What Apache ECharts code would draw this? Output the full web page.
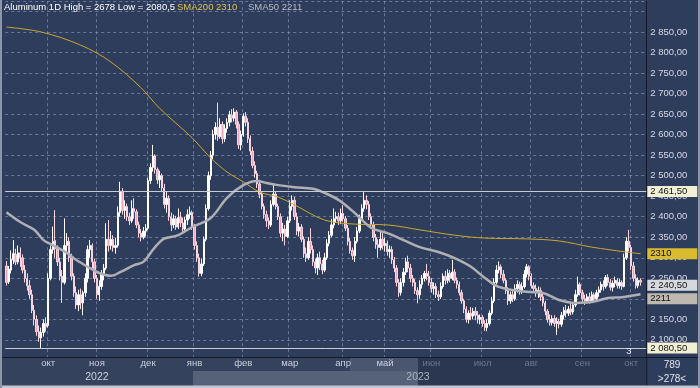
<!DOCTYPE html>
<html><head><meta charset="utf-8">
<script src="https://cdn.jsdelivr.net/npm/echarts/dist/echarts.min.js"></script>
<style>html,body{margin:0;padding:0;background:#2f3d5d;}#c{width:700px;height:388px;}</style>
</head><body><div id="c"></div><script>
// ---------- data ----------
const firstDate = '2022-09-06';
const holidays = ['2022-09-19','2022-12-26','2022-12-27','2023-01-02','2023-04-07','2023-04-10','2023-05-01','2023-05-08','2023-05-29','2023-08-28'];
const slotCount = 276;
const monthNames = ['янв','фев','мар','апр','май','июн','июл','авг','сен','окт','ноя','дек'];
const yearMarks = ['2022-11','2023-05'];
const yearTexts = ['2022','2023'];
const dimFromMonth = '2023-06';
const opens = [2280,2242,2270,2295,2308,2290,2312,2300,2270,2250, 2232,2210,2172,2150,2120,2105,2118,2140,2135,2250, 2320,2342,2322,2290,2255,2240,2330,2340,2300,2255, 2215,2185,2210,2190,2215,2250,2320,2330,2290,2250, 2210,2230,2262,2275,2345,2330,2345,2325,2330,2410, 2462,2415,2425,2400,2390,2420,2412,2380,2360,2350, 2365,2372,2488,2520,2548,2515,2490,2500,2470,2430, 2445,2400,2380,2395,2375,2398,2385,2370,2392,2405, 2410,2375,2330,2300,2262,2285,2345,2420,2500,2550, 2600,2618,2595,2625,2590,2615,2630,2648,2640,2655, 2625,2575,2600,2645,2630,2590,2560,2525,2505,2480, 2455,2425,2405,2390,2380,2430,2455,2425,2400,2360, 2370,2352,2390,2425,2440,2400,2365,2375,2345,2310, 2300,2340,2320,2290,2275,2300,2285,2270,2300,2335, 2355,2380,2395,2400,2390,2408,2395,2372,2340,2318, 2305,2340,2365,2395,2420,2440,2430,2400,2380,2350, 2332,2325,2345,2330,2335,2315,2320,2295,2275,2240, 2215,2240,2265,2290,2275,2250,2240,2220,2210,2235, 2250,2262,2255,2240,2225,2230,2210,2205,2230,2255, 2245,2262,2250,2265,2245,2235,2215,2195,2175,2150, 2165,2158,2170,2160,2150,2155,2140,2130,2140,2165, 2195,2240,2270,2278,2260,2245,2220,2195,2210,2200, 2225,2235,2220,2230,2260,2278,2255,2232,2225,2215, 2220,2205,2190,2170,2150,2142,2152,2140,2145,2138, 2160,2172,2165,2175,2168,2185,2210,2235,2215,2200, 2195,2205,2195,2210,2200,2215,2222,2235,2230,2252, 2240,2228,2238,2245,2232,2240,2230,2300,2340,2325, 2280,2250,2232,2245];
const closes = [2240,2272,2296,2310,2290,2312,2300,2270,2250,2232, 2210,2172,2150,2120,2105,2118,2140,2132,2250,2320, 2340,2322,2290,2255,2240,2330,2340,2300,2255,2215, 2185,2210,2190,2215,2250,2320,2330,2290,2250,2210, 2230,2262,2275,2345,2330,2345,2325,2330,2410,2462, 2415,2425,2400,2390,2420,2412,2380,2360,2350,2365, 2372,2488,2520,2548,2515,2490,2500,2470,2430,2445, 2400,2380,2395,2375,2398,2385,2370,2392,2405,2410, 2375,2330,2300,2262,2285,2345,2420,2500,2550,2600, 2618,2595,2625,2590,2615,2630,2648,2640,2655,2625, 2575,2600,2645,2630,2590,2560,2525,2505,2480,2455, 2425,2405,2390,2380,2430,2455,2425,2400,2360,2370, 2352,2390,2425,2440,2400,2365,2375,2345,2310,2300, 2340,2320,2290,2275,2300,2285,2270,2300,2335,2355, 2380,2395,2400,2390,2408,2395,2372,2340,2318,2305, 2340,2365,2395,2420,2440,2430,2400,2380,2350,2332, 2325,2345,2330,2335,2315,2320,2295,2275,2240,2215, 2240,2265,2290,2275,2250,2240,2220,2210,2235,2250, 2262,2255,2240,2225,2230,2210,2205,2230,2255,2245, 2262,2250,2265,2245,2235,2215,2195,2175,2150,2165, 2158,2170,2160,2150,2155,2140,2130,2140,2165,2195, 2240,2270,2278,2260,2245,2220,2195,2210,2200,2225, 2235,2220,2230,2260,2278,2255,2232,2225,2215,2220, 2205,2190,2170,2150,2142,2152,2140,2145,2138,2160, 2172,2165,2175,2168,2185,2210,2235,2215,2200,2195, 2205,2195,2210,2200,2215,2222,2235,2230,2252,2240, 2228,2238,2245,2232,2240,2230,2300,2340,2325,2280, 2250,2232,2245,2240.5];
const lows = [2232,2236,2262,2285,2282,2284,2278,2262,2240,2220, 2200,2165,2135,2110,2095,2080.5,2108,2120,2130,2245, 2310,2300,2280,2245,2190,2235,2310,2290,2245,2205, 2175,2170,2175,2160,2205,2240,2300,2275,2240,2200, 2195,2222,2245,2270,2315,2320,2315,2310,2325,2400, 2405,2395,2390,2380,2385,2395,2372,2350,2340,2345, 2352,2368,2480,2510,2505,2480,2470,2460,2420,2410, 2390,2365,2372,2368,2370,2375,2362,2365,2380,2395, 2368,2320,2290,2254,2255,2280,2340,2415,2490,2540, 2588,2585,2590,2578,2582,2605,2620,2630,2632,2615, 2565,2562,2595,2620,2580,2550,2518,2495,2470,2445, 2418,2395,2375,2370,2375,2425,2418,2392,2350,2340, 2330,2348,2385,2415,2392,2355,2352,2338,2300,2290, 2295,2310,2280,2262,2258,2270,2260,2265,2295,2328, 2350,2372,2385,2380,2382,2388,2365,2330,2310,2295, 2290,2335,2360,2390,2412,2418,2392,2370,2340,2322, 2300,2318,2320,2315,2305,2300,2285,2265,2230,2205, 2208,2230,2258,2265,2240,2230,2212,2189,2200,2225, 2242,2245,2232,2215,2210,2202,2195,2200,2225,2235, 2238,2240,2245,2238,2225,2208,2188,2165,2142,2140, 2148,2150,2148,2140,2138,2132,2122,2121,2135,2160, 2190,2235,2262,2250,2238,2212,2185,2188,2192,2195, 2215,2210,2212,2225,2252,2245,2225,2215,2205,2202, 2195,2182,2160,2142,2135,2135,2132,2112,2128,2132, 2150,2155,2158,2160,2162,2180,2205,2208,2192,2185, 2188,2188,2190,2192,2195,2205,2215,2220,2225,2232, 2220,2218,2228,2225,2225,2222,2228,2295,2315,2270, 2242,2225,2226,2232];
const highs = [2292,2280,2318,2343,2322,2330,2325,2308,2282,2262, 2246,2222,2185,2160,2135,2130,2150,2155,2262,2330, 2376,2416,2330,2300,2270,2396,2360,2350,2310,2262, 2230,2222,2225,2220,2262,2330,2343,2335,2298,2258, 2245,2270,2285,2384,2392,2365,2355,2348,2425,2485, 2470,2440,2432,2410,2440,2445,2418,2388,2370,2375, 2382,2495,2530,2575,2552,2520,2512,2505,2480,2460, 2452,2410,2405,2402,2420,2412,2398,2400,2418,2425, 2415,2382,2340,2310,2298,2352,2430,2510,2560,2612, 2630,2678,2640,2632,2625,2640,2658,2662,2664,2660, 2632,2610,2652,2655,2640,2598,2570,2535,2512,2490, 2462,2432,2415,2398,2440,2481,2462,2432,2408,2385, 2380,2400,2440,2452,2448,2410,2385,2382,2352,2325, 2350,2372,2330,2298,2310,2315,2295,2312,2345,2365, 2395,2420,2412,2410,2420,2428,2402,2380,2348,2325, 2350,2375,2405,2430,2460,2452,2438,2408,2388,2358, 2345,2365,2360,2348,2342,2330,2328,2302,2282,2248, 2250,2275,2300,2305,2285,2258,2248,2228,2245,2258, 2268,2285,2268,2250,2240,2238,2220,2240,2262,2268, 2272,2270,2295,2272,2252,2242,2222,2200,2182,2172, 2180,2178,2180,2170,2162,2160,2148,2150,2172,2205, 2250,2282,2291,2284,2270,2250,2228,2218,2222,2235, 2245,2242,2240,2270,2285,2282,2262,2240,2235,2230, 2228,2212,2195,2175,2162,2160,2160,2155,2152,2168, 2180,2185,2182,2190,2192,2222,2254,2240,2222,2210, 2212,2215,2218,2215,2222,2230,2242,2245,2258,2260, 2248,2245,2254,2250,2248,2245,2310,2350,2368,2332, 2290,2260,2252,2250];
const sma200Idx = [0,15,32,45,58,66,80,88,95,102,109,117,124,137,150,164,178,193,206,224,238,252,267,273];
const sma200Val = [2862,2850,2818,2777,2714,2664,2592,2543,2509,2485,2460,2448,2429,2392,2382,2380,2368,2355,2348,2346,2341,2326,2314,2310];
const sma50Idx = [0,6,12,16,20,26,30,35,40,45,49,55,59,63,66,68,74,80,88,95,102,108,112,117,124,132,137,143,150,157,164,171,178,186,193,200,206,212,224,231,238,245,252,259,265,273];
const sma50Val = [2411,2387,2368,2343,2331,2312,2295,2278,2263,2256,2265,2282,2290,2319,2338,2347,2355,2375,2397,2446,2477,2487,2482,2477,2472,2468,2458,2441,2409,2373,2360,2343,2326,2314,2299,2278,2251,2229,2217,2214,2197,2190,2192,2202,2204,2211];
const levelLine = 2461.5;
const priceLabelMin = 2100, priceLabelMax = 2850;
const markerIndex = 268, markerText = '3';
const footerTexts = ['789', '>278<'];

// ---------- helpers ----------
const FONT = '"Liberation Sans", Arial, sans-serif';
function buildDates(start, n) {
  const out = []; const d = new Date(start + 'T00:00:00Z');
  while (out.length < n) {
    const dow = d.getUTCDay(); const s = d.toISOString().slice(0, 10);
    if (dow !== 0 && dow !== 6 && holidays.indexOf(s) < 0) out.push(s);
    d.setUTCDate(d.getUTCDate() + 1);
  }
  return out;
}
function fmtPrice(v) {
  const s = v.toFixed(2).split('.');
  return s[0].replace(/\B(?=(\d{3})+(?!\d))/g, ' ') + ',' + s[1];
}
const categories = buildDates(firstDate, slotCount);
const isMonthStart = i => i > 0 && categories[i].slice(0, 7) !== categories[i - 1].slice(0, 7);
const candleData = opens.map((o, i) => [o, closes[i], lows[i], highs[i]]);
const sma200Data = sma200Idx.map((ix, k) => [ix, sma200Val[k]]);
const sma50Data = sma50Idx.map((ix, k) => [ix, sma50Val[k]]);
const hi = Math.max.apply(null, highs), lo = Math.min.apply(null, lows);
const lastClose = closes[closes.length - 1];
const sma200Last = sma200Val[sma200Val.length - 1], sma50Last = sma50Val[sma50Val.length - 1];

const GRID_COLOR = 'rgba(150,168,205,0.55)';
const tagBase = { show: true, position: 'end', distance: 1, fontSize: 9.5, fontFamily: FONT, color: '#111', padding: [1, 3, 0, 3], width: 44, align: 'left' };
function tag(value, text, bg, showLine, extra) {
  return { yAxis: value,
    lineStyle: showLine ? { color: '#c8ccd4', width: 1, type: 'solid' } : { color: 'rgba(0,0,0,0)', width: 0 },
    label: Object.assign({}, tagBase, { formatter: text, backgroundColor: bg }, extra || {}) };
}

const chart = echarts.init(document.getElementById('c'), null, { renderer: 'canvas' });
chart.setOption({
  animation: false,
  backgroundColor: '#2f3d5d',
  grid: { left: 5.2, top: 1.21, width: 641.1, height: 359.19 },
  xAxis: [
    { type: 'category', data: categories, boundaryGap: true, axisLine: { show: false }, axisTick: { show: false },
      axisLabel: { show: false },
      splitLine: { show: true, interval: (i) => isMonthStart(i), lineStyle: { color: GRID_COLOR, type: [3, 3], width: 1 } } },
    { type: 'category', data: categories, boundaryGap: true, position: 'bottom', z: 10,
      axisLine: { show: false }, axisTick: { show: false }, splitLine: { show: false },
      axisLabel: { show: true, margin: -3.6, interval: (i) => isMonthStart(i),
        formatter: (v) => {
          const ym = v.slice(0, 7); const name = monthNames[parseInt(v.slice(5, 7), 10) - 1];
          const dim = ym >= dimFromMonth;
          let s = dim ? '{d|' + name + '}' : '{m|' + name + '}';
          const yk = yearMarks.indexOf(ym);
          if (yk === 0) s += '\n{y|' + yearTexts[yk] + '}';
          if (yk === 1) s += '\n{y2|' + yearTexts[yk] + '}';
          return s;
        },
        rich: {
          m: { color: '#c9cfdc', fontSize: 9.5, fontFamily: FONT, lineHeight: 13 },
          d: { color: '#6d778e', fontSize: 9.5, fontFamily: FONT, lineHeight: 13 },
          y: { color: '#c9cfdc', fontSize: 10.5, fontFamily: FONT, lineHeight: 15 },
          y2: { color: '#aab2c2', fontSize: 10.5, fontFamily: FONT, lineHeight: 15, padding: [0, 0, 0, 66] }
        } } },
    { type: 'category', data: categories, boundaryGap: true, position: 'bottom', z: 10,
      axisLine: { show: false }, axisTick: { show: false }, splitLine: { show: false },
      axisLabel: { show: true, margin: -14, interval: (i) => i === markerIndex, formatter: () => markerText,
        color: '#e6eaf0', fontSize: 9.5, fontFamily: FONT } }
  ],
  yAxis: {
    type: 'value', position: 'right', min: 2050, max: 2925, interval: 50, scale: false,
    axisLine: { show: true, lineStyle: { color: '#141a28', width: 1 } },
    axisTick: { show: false },
    splitLine: { show: true, lineStyle: { color: GRID_COLOR, type: [3, 3], width: 1 } },
    axisLabel: { margin: 4, color: '#d4d9e3', fontSize: 9.5, fontFamily: FONT, showMaxLabel: false,
      formatter: (v) => (v >= priceLabelMin && v <= priceLabelMax) ? fmtPrice(v) : '' }
  },
  series: [
    { type: 'candlestick', xAxisIndex: 0, data: candleData, barWidth: '80%', z: 3,
      itemStyle: { color: '#ffffff', color0: '#f0a3bb', borderColor: '#ffffff', borderColor0: '#f8d4de', borderWidth: 1 },
      markLine: { silent: true, symbol: ['none', 'none'], animation: false,
        data: [
          tag(levelLine, fmtPrice(levelLine), '#f2f0d4', true),
          tag(lo, fmtPrice(lo), '#f2f0d4', true),
          tag(sma200Last, String(sma200Last), '#d8bb2e', false),
          tag(lastClose, fmtPrice(lastClose), '#d6d8dd', false, { offset: [0, 3] }),
          tag(sma50Last, String(sma50Last), '#bdb8b0', false, { offset: [0, 4.5] })
        ] } },
    { type: 'line', name: 'SMA200', data: sma200Data, smooth: 0.35, showSymbol: false, z: 4,
      lineStyle: { color: '#c9a82c', width: 1 } },
    { type: 'line', name: 'SMA50', data: sma50Data, smooth: 0.35, showSymbol: false, z: 4,
      lineStyle: { color: '#aeb0b4', width: 2.5 } }
  ],
  graphic: [
    { type: 'rect', z: 5, shape: { x: 0, y: 357, width: 647, height: 30 }, style: { fill: '#35425e' } },
    { type: 'rect', z: 5, shape: { x: 418, y: 357, width: 229, height: 30 }, style: { fill: '#2b3651' } },
    { type: 'rect', z: 5, shape: { x: 193, y: 371, width: 225, height: 15 }, style: { fill: '#56617a' } },
    { type: 'rect', z: 5, shape: { x: 350, y: 357, width: 68, height: 14 }, style: { fill: '#4a5570' } },
    { type: 'line', z: 6, shape: { x1: 0, y1: 357.5, x2: 700, y2: 357.5 }, style: { stroke: '#141a28', lineWidth: 1 } },
    { type: 'line', z: 6, shape: { x1: 646.8, y1: 357, x2: 646.8, y2: 386 }, style: { stroke: '#141a28', lineWidth: 1 } },
    { type: 'rect', z: 7, shape: { x: 0, y: 385.5, width: 700, height: 3 }, style: { fill: '#c3c7cf' } },
    { type: 'rect', z: 7, shape: { x: 0, y: 0, width: 2, height: 388 }, style: { fill: '#8d96a8' } },
    { type: 'rect', z: 7, shape: { x: 698, y: 0, width: 2, height: 388 }, style: { fill: '#8d96a8' } },
    { type: 'text', z: 10, x: 4, y: 2, style: { text: 'Aluminum 1D High = ' + hi + ' Low = ' + String(lo).replace('.', ','), fill: '#ffffff', font: '9.5px ' + FONT } },
    { type: 'text', z: 10, x: 177, y: 2, style: { text: 'SMA200 ' + sma200Last, fill: '#dcc04e', font: '9.5px ' + FONT } },
    { type: 'text', z: 10, x: 248, y: 2, style: { text: 'SMA50 ' + sma50Last, fill: '#b6bac2', font: '9.5px ' + FONT } },
    { type: 'text', z: 10, x: 672, y: 365, style: { text: footerTexts[0], fill: '#e0e4ec', font: '10px ' + FONT, align: 'center', verticalAlign: 'middle' } },
    { type: 'text', z: 10, x: 672, y: 379, style: { text: footerTexts[1], fill: '#e0e4ec', font: '10px ' + FONT, align: 'center', verticalAlign: 'middle' } }
  ]
});
</script></body></html>
